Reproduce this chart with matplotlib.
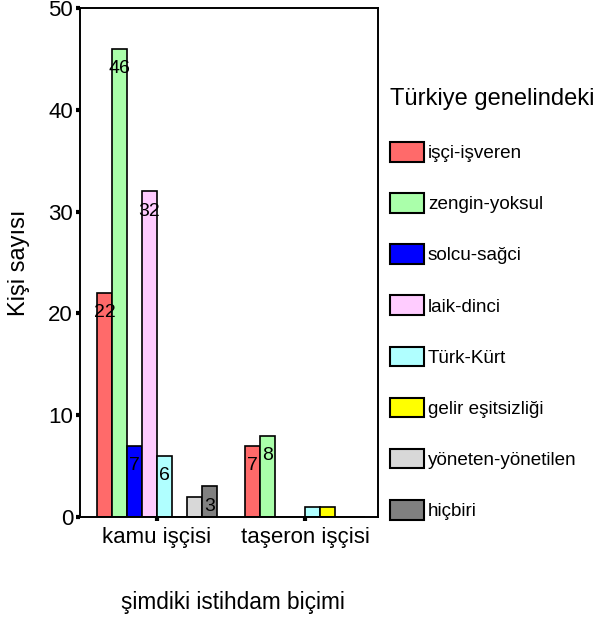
import matplotlib
matplotlib.use("Agg")
import matplotlib.pyplot as plt
import numpy as np

plt.rcParams["font.family"] = ["Liberation Sans", "DejaVu Sans"]

categories = ["kamu işçisi", "taşeron işçisi"]
series = ["işçi-işveren", "zengin-yoksul", "solcu-sağci", "laik-dinci",
          "Türk-Kürt", "gelir eşitsizliği", "yöneten-yönetilen", "hiçbiri"]
kamu = [22, 46, 7, 32, 6, 0, 2, 3]
taseron = [7, 8, 0, 0, 1, 1, 0, 0]
colors = ["#ff6a6a", "#aaffaa", "#0000ff", "#ffccff",
          "#b0ffff", "#ffff00", "#d8d8d8", "#808080"]

fig = plt.figure(figsize=(5.95, 6.19), dpi=100)
ax = fig.add_axes([80 / 595, 102 / 619, 298 / 595, 509 / 619])

x = np.arange(len(categories))
n = len(series)
w = 0.81 / n
handles = []
for j, name in enumerate(series):
    vals = [kamu[j], taseron[j]]
    pos = x + (j - (n - 1) / 2) * w
    b = ax.bar(pos, vals, width=w, color=colors[j], edgecolor="black",
               linewidth=1.2, label=name)
    handles.append(b)
    # only bars tall enough to hold the number get a label
    for px, v in zip(pos, vals):
        if v >= 3:
            ax.annotate(str(v), (px, v), xytext=(0, -17.5), textcoords="offset points",
                        ha="center", va="baseline", fontsize=14)

ax.set_xlim(-0.52, 1.493)
ax.set_ylim(0, 50)
ax.set_yticks([0, 10, 20, 30, 40, 50])
ax.set_xticks(x)
ax.set_xticklabels(categories)
ax.tick_params(axis="both", direction="out", length=3, width=3, labelsize=16)
ax.tick_params(axis="x", pad=4)
ax.tick_params(axis="y", pad=2)
for s in ax.spines.values():
    s.set_linewidth(1.4)

ax.set_ylabel("Kişi sayısı", fontsize=17, labelpad=13)
fig.text(233 / 595, 1 - 602 / 619, "şimdiki istihdam biçimi", fontsize=16.3,
         ha="center", va="center")

leg = fig.legend(handles=handles, labels=series, loc="upper left",
                 bbox_to_anchor=(390 / 595, 1 - 88 / 619), frameon=False,
                 fontsize=13.6, title="Türkiye genelindeki", title_fontsize=17,
                 handlelength=1.8, handleheight=1.22, labelspacing=1.64,
                 handletextpad=0.2, borderpad=0, borderaxespad=0)
leg._legend_box.align = "left"
leg._legend_box.sep = 23
for p in leg.get_patches():
    p.set_linewidth(1.5)

fig.savefig("out.png", dpi=100)
